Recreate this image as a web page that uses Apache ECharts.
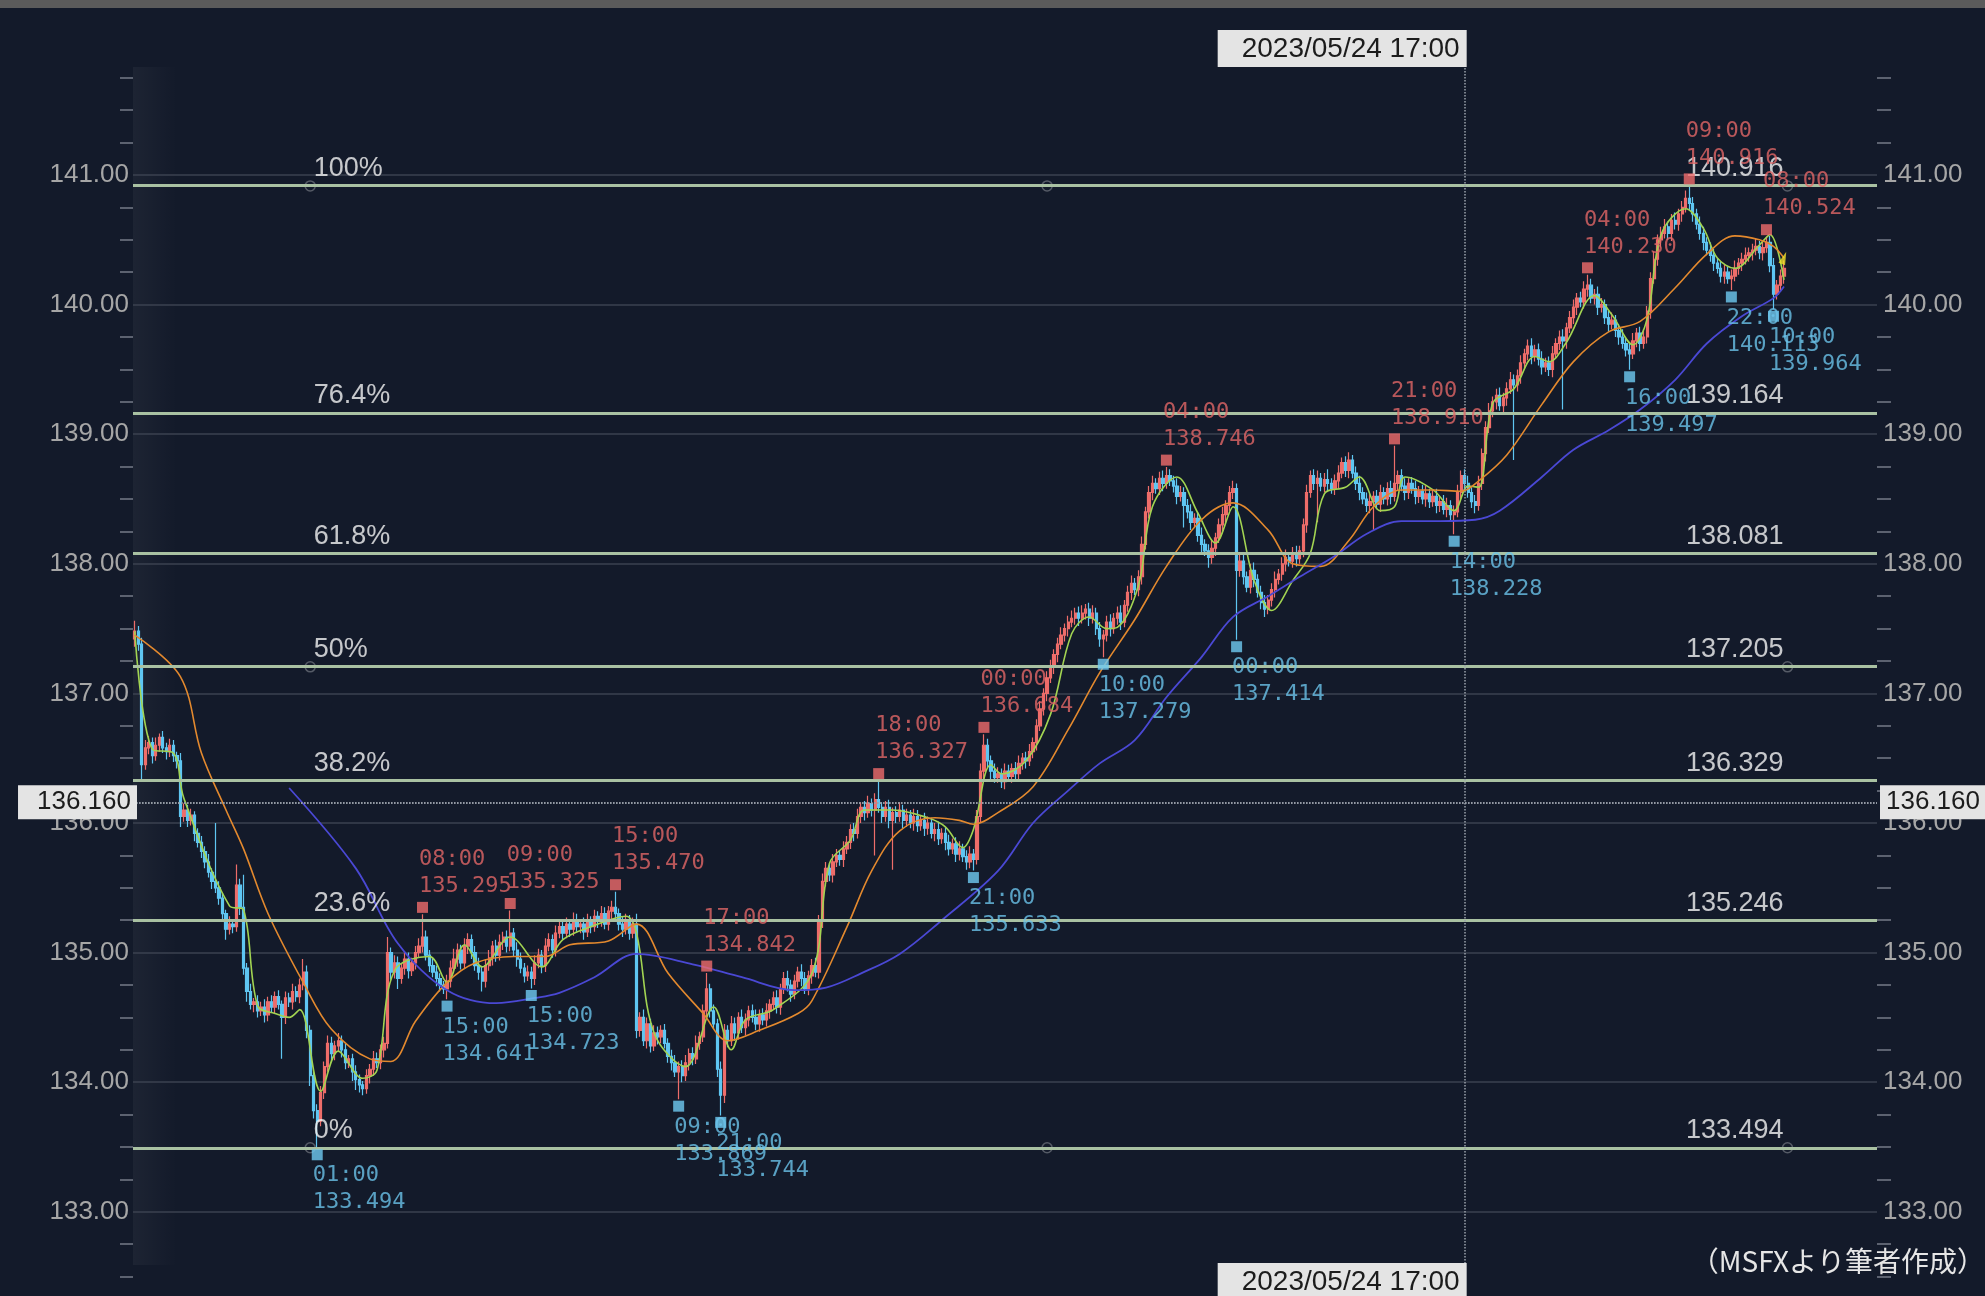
<!DOCTYPE html>
<html>
<head>
<meta charset="utf-8">
<title>USD/JPY 1時間足 フィボナッチ</title>
<script src="https://cdn.jsdelivr.net/npm/echarts@6/dist/echarts.min.js"></script>
<style>
  html, body { margin: 0; padding: 0; background: #131a2a; }
  #main { width: 1985px; height: 1296px; }
</style>
</head>
<body>
<div id="main"></div>
<script>
// hourly closes, candle 0 .. 470 (open = previous close)
const firstOpen = 137.42;
const closes = [
  137.48,137.38,136.45,136.58,136.62,136.52,136.60,136.66,136.58,136.55,
  136.60,136.52,136.48,136.05,136.10,136.02,136.06,135.92,135.85,135.78,
  135.70,135.62,135.55,135.50,135.42,135.30,135.18,135.22,135.20,135.52,
  135.35,134.88,134.70,134.60,134.62,134.55,134.58,134.52,134.62,134.58,
  134.66,134.60,134.50,134.65,134.62,134.70,134.66,134.75,134.85,134.40,
  134.05,133.78,133.70,
  133.92,134.12,134.30,134.22,134.28,134.32,134.25,134.15,134.18,134.08,
  134.02,133.98,133.95,134.05,134.10,134.18,134.15,134.25,134.30,135.00,
  134.85,134.92,134.80,134.88,134.95,134.86,134.92,135.00,135.05,135.12,
  134.98,134.90,134.85,134.80,134.75,134.72,134.78,134.88,134.95,135.02,
  134.92,135.05,135.10,135.00,134.90,134.85,134.78,134.90,134.96,135.05,
  134.98,135.08,135.12,135.05,135.15,135.02,134.95,134.88,134.82,134.85,
  134.80,134.92,134.98,134.90,135.05,135.10,135.02,135.15,135.20,
  135.15,135.22,135.18,135.25,135.20,135.22,135.16,135.24,135.20,135.28,
  135.25,135.30,135.22,135.32,135.35,135.30,135.22,135.18,135.25,135.15,
  135.22,134.40,134.50,134.32,134.45,134.28,134.38,134.35,134.40,134.30,
  134.20,134.15,134.08,134.12,134.05,134.15,134.22,134.18,134.30,134.35,
  134.55,134.72,134.55,134.45,134.10,133.90,
  134.40,134.32,134.45,134.38,134.50,134.42,134.48,134.55,134.50,134.45,
  134.52,134.48,134.55,134.60,134.65,134.58,134.72,134.80,134.75,134.68,
  134.78,134.85,134.80,134.72,134.82,134.90,134.85,135.25,135.55,135.65,
  135.60,135.70,135.75,135.72,135.80,135.85,135.95,135.92,136.05,136.12,
  136.08,136.15,136.10,136.18,136.12,
  136.05,136.12,136.02,136.08,136.05,136.10,136.02,136.06,136.00,136.05,
  135.98,136.02,135.96,136.00,135.92,135.95,135.88,135.92,135.85,135.80,
  135.84,135.76,135.80,135.74,135.70,135.76,135.72,136.05,136.40,136.60,
  136.48,136.40,136.35,
  136.38,136.32,136.40,136.36,136.42,136.38,136.46,136.50,136.48,136.55,
  136.62,136.75,136.88,137.00,137.12,137.20,137.30,137.38,137.45,137.50,
  137.55,137.58,137.62,137.58,137.62,137.65,137.58,137.62,137.50,137.42,
  137.45,137.55,137.50,137.58,137.62,137.55,137.68,137.78,137.85,137.80,
  137.90,138.15,138.40,138.55,138.62,138.58,138.66,138.62,138.68,
  138.64,138.60,138.52,138.55,138.45,138.40,138.32,138.35,138.22,138.15,
  138.10,138.05,138.12,138.20,138.30,138.38,138.45,138.55,138.58,137.95,
  138.02,137.90,137.82,137.95,137.88,137.78,137.70,137.65,137.72,137.80,
  137.88,137.92,138.00,138.05,138.02,138.08,138.04,138.10,138.30,138.55,
  138.68,138.62,138.66,138.60,138.65,138.62,138.58,138.64,138.70,138.78,
  138.72,138.80,138.70,138.62,138.55,138.50,138.45,138.48,138.52,138.46,
  138.55,138.50,138.58,138.52,138.62,
  138.68,138.60,138.55,138.62,138.58,138.52,138.56,138.50,138.54,138.48,
  138.52,138.45,138.48,138.42,138.45,138.38,138.40,138.55,138.68,138.62,
  138.55,138.48,138.45,138.62,138.85,139.05,139.18,139.25,139.30,139.22,
  139.28,139.35,139.42,139.38,139.45,139.55,139.62,139.68,139.60,139.65,
  139.58,139.52,139.55,139.50,139.62,139.70,139.75,139.72,139.82,139.90,
  139.98,140.05,140.02,140.12,140.15,
  140.05,140.08,139.98,140.00,139.90,139.85,139.88,139.80,139.75,139.70,
  139.65,139.62,139.72,139.78,139.70,139.75,139.95,140.20,140.35,140.50,
  140.55,140.60,140.55,140.65,140.62,140.70,140.75,140.82,140.78,140.70,
  140.62,140.55,140.48,140.42,140.38,140.32,140.28,140.22,140.25,140.20,
  140.22,140.28,140.32,140.35,140.38,140.40,140.42,140.45,140.40,140.44,
  140.48,140.30,140.08,140.15,140.22,140.28
];
// wicks in hundredths of a yen, above / below the body
const upWick = [
  8,4,5,6,5,4,6,3,5,4, 5,4,3,6,5,4,5,3,4,5, 4,6,3,45,5,4,3,6,4,16, 5,25,4,6,3,5,4,6,4,5, 4,5,3,5,4,6,4,5,10,5, 4,3,5,
  5,4,6,5,4,6,4,5,3,4, 5,4,3,5,4,6,5,4,5,12, 4,6,5,4,6,5,4,5,6,17.5,
  5,4,6,5,4,3,5,6,8,5, 4,6,5,4,5,6,4,5,6,4, 5,6,4,5,17.5,4,6,5,4,5, 4,6,5,4,6,5,4,6,5,
  4,5,4,6,5,4,5,6,4,5, 4,6,5,4,5,12,4,6,5,4, 5,8,4,6,5,4,6,5,4,5, 4,5,6,4,5,6,4,5,6,4, 5,12.2,4,5,4,6,
  5,4,6,5,4,6,5,4,5,6, 4,5,6,4,5,6,4,5,6,4, 5,4,6,5,4,5,6,4,6,5, 4,6,5,4,6,5,4,5,6,4, 5,6,4,5,14.7,
  4,5,6,4,5,6,4,5,4,6, 5,4,6,5,4,5,6,4,5,6, 4,5,6,4,5,6,4,5,6,8.4, 5,4,6,
  5,4,6,5,4,5,6,4,5,6, 4,5,6,4,5,6,4,5,6,4, 5,6,4,5,6,4,5,6,4,5, 4,5,6,4,5,6,4,5,6,4, 5,6,4,5,6,4,5,6,6.6,
  5,4,6,5,4,5,6,4,5,6, 4,5,6,4,5,6,4,5,6,4, 5,6,4,5,6,4,5,6,4,5, 6,4,5,6,4,5,6,4,5,6, 4,5,6,4,5,8,4,5,6,4, 5,6,4,5,6,4,5,6,4,5, 6,4,5,6,29,
  4,5,6,4,5,6,4,5,6,4, 5,6,4,5,6,4,5,6,4,5, 6,4,5,6,4,5,6,4,5,6, 4,5,6,4,5,6,4,5,6,4, 5,6,4,5,6,4,5,6,4,5, 6,4,5,6,8,
  5,4,6,5,4,5,6,4,5,6, 4,5,6,4,5,6,4,5,6,4, 5,6,4,5,6,4,5,6,9.6,5, 4,6,5,4,6,5,4,5,6,4, 5,6,4,5,6,4,5,6,4,5, 4.4,5,6,4,5,6
];
const downWick = [
  6,5,12,4,5,6,4,5,4,6, 4,5,6,8,4,5,4,6,4,5, 5,4,6,4,5,6,8,4,5,4, 6,5,8,4,6,5,4,6,5,4, 5,4,32,5,4,6,4,5,4,6, 8,6,20.6,
  4,5,4,6,5,4,6,5,4,7, 8,6,5,4,6,5,4,5,6,4, 6,5,8,4,5,6,4,5,4,5,
  4,5,4,6,5,4,7.9,5,4,6, 5,4,6,5,4,6,8,5,4,6, 5,4,6,5,4,5,6,4,5,4, 7.7,5,4,6,5,4,6,5,4,
  5,4,6,5,4,5,6,4,5,4, 6,5,4,5,6,4,5,6,4,5, 4,6,5,4,6,5,4,6,5,4, 5,6,4,21.1,5,4,6,5,4,5, 4,6,5,4,6,15.6,
  6,5,4,6,5,4,6,5,4,5, 6,4,5,6,4,5,6,4,5,6, 4,5,6,4,5,6,4,5,6,4, 5,6,4,5,6,4,5,6,4,5, 6,4,5,35,4,
  5,4,6,38,5,4,6,5,4,6, 5,4,6,5,4,6,5,4,6,5, 4,6,5,4,6,5,8.7,4,5,6, 5,6,4,
  4,5,6,4,5,6,4,5,6,4, 5,6,4,5,6,4,5,6,4,5, 6,4,5,6,4,5,6,4,5,6, 14.1,5,6,4,5,6,4,5,6,4, 5,6,4,5,6,4,5,6,4,
  4,5,6,4,17,5,6,4,5,6, 4,8,5,6,4,5,6,4,5,53.6, 5,6,4,5,6,4,5,6,4,5, 6,4,5,6,4,5,6,4,5,6, 4,5,30,4,5,6,4,5,6,4, 5,6,4,5,6,4,5,6,22,4, 6,4,5,6,4,
  5,4,6,5,4,6,5,4,6,5, 4,6,5,4,6,5,15.2,4,5,6, 4,5,6,4,5,6,4,5,6,4, 5,6,4,58,5,6,4,5,6,4, 5,6,4,5,6,4,5,53,6,4, 5,6,4,5,6,
  4,5,6,4,5,6,4,5,6,4, 5,12.3,4,5,6,4,5,6,4,5, 6,4,5,6,4,5,6,4,5,6, 4,5,6,4,5,6,4,5,6,4, 8.7,4,5,6,4,5,6,4,5,6, 4,5,11.6,4,5,6
];
const totalSlots = 497; // 471 candles + empty room on the right

// moving averages: [candle index, price]
const maShort = [[0,137.48],[5,136.57],[11,136.54],[14,136.19],[27,135.36],[31,135.33],[35,134.59],[40,134.53],[44,134.50],[47,134.56],[53,133.93],[58,134.24],[65,134.03],[69,134.09],[74,134.86],[84,134.97],[89,134.77],[94,135.06],[99,134.89],[107,135.12],[116,134.89],[122,135.10],[130,135.20],[140,135.28],[143,135.15],[148,134.38],[157,134.12],[165,134.58],[170,134.25],[174,134.48],[182,134.56],[193,134.84],[198,135.69],[204,135.87],[208,136.10],[216,136.10],[226,136.04],[231,135.97],[236,135.81],[239,135.95],[244,136.45],[247,136.38],[254,136.48],[261,136.84],[267,137.46],[272,137.59],[277,137.50],[280,137.51],[286,137.83],[290,138.44],[297,138.67],[303,138.39],[308,138.16],[313,138.44],[319,137.87],[324,137.64],[330,137.87],[335,138.08],[339,138.54],[345,138.59],[349,138.67],[355,138.41],[359,138.44],[362,138.67],[370,138.57],[376,138.41],[380,138.60],[383,138.59],[387,139.24],[393,139.35],[399,139.60],[403,139.56],[408,139.71],[416,140.07],[421,139.92],[427,139.69],[431,139.89],[435,140.54],[442,140.74],[447,140.59],[451,140.36],[456,140.28],[463,140.46],[466,140.54],[470,140.19]];
const maMid = [[0,137.45],[13,137.13],[19,136.54],[26,136.10],[31,135.80],[38,135.30],[48,134.77],[56,134.41],[67,134.18],[73,134.16],[80,134.47],[89,134.77],[97,134.92],[108,134.97],[117,134.97],[124,135.06],[135,135.09],[143,135.22],[152,134.84],[162,134.53],[169,134.32],[178,134.40],[189,134.53],[193,134.63],[203,135.20],[210,135.63],[218,135.94],[228,136.04],[235,136.02],[239,135.99],[246,136.08],[256,136.28],[266,136.72],[275,137.16],[285,137.57],[294,137.98],[304,138.34],[313,138.47],[323,138.26],[330,138.00],[338,137.98],[346,138.18],[353,138.44],[361,138.57],[370,138.57],[378,138.56],[383,138.64],[391,138.84],[401,139.23],[410,139.56],[420,139.79],[429,139.87],[439,140.13],[448,140.39],[456,140.53],[463,140.50],[467,140.45],[470,140.36]];
const maLong = [[44,136.27],[63,135.65],[75,135.07],[89,134.71],[103,134.61],[114,134.65],[121,134.69],[131,134.81],[143,134.99],[159,134.91],[173,134.81],[188,134.71],[197,134.73],[207,134.84],[218,134.99],[230,135.25],[246,135.63],[256,136.00],[266,136.25],[275,136.46],[285,136.64],[294,136.97],[304,137.28],[313,137.59],[323,137.75],[332,137.90],[342,138.06],[351,138.23],[361,138.33],[372,138.33],[382,138.34],[389,138.41],[401,138.67],[410,138.88],[420,139.03],[429,139.19],[439,139.42],[448,139.70],[458,139.91],[467,140.05],[470,140.14]];

// swing highs / lows: [candle index, price, hour]
const swingHighs = [[82,135.295,'08:00'],[107,135.325,'09:00'],[137,135.470,'15:00'],[163,134.842,'17:00'],[212,136.327,'18:00'],[242,136.684,'00:00'],[294,138.746,'04:00'],[359,138.910,'21:00'],[414,140.230,'04:00'],[443,140.916,'09:00'],[465,140.524,'08:00']];
const swingLows = [[52,133.494,'01:00'],[89,134.641,'15:00'],[113,134.723,'15:00'],[155,133.869,'09:00'],[167,133.744,'21:00'],[239,135.633,'21:00'],[276,137.279,'10:00'],[314,137.414,'00:00'],[376,138.228,'14:00'],[426,139.497,'16:00'],[455,140.113,'22:00'],[467,139.964,'10:00']];

// fibonacci retracement
const fibPct = ['100%','76.4%','61.8%','50%','38.2%','23.6%','0%'];
const fibPrice = [140.916,139.164,138.081,137.205,136.329,135.246,133.494];
const fibHandles = [[50,140.916],[50,137.205],[50,133.494],[260,140.916],[260,133.494],[471,140.916],[471,137.205],[471,133.494]];
const fibLeftAt = 50, fibRightAt = 470;

// crosshair
const crossIndex = 379, crossPrice = 136.160, crossTime = '2023/05/24 17:00';
const lastMark = [[470, 140.36]];

// y axis
const yMin = 132, yMax = 142, yStep = 1;

const upColor = '#ee6d6a', downColor = '#5fc6f2';
const sans = '"Liberation Sans", Arial, sans-serif';
const mono = '"DejaVu Sans Mono", "Liberation Mono", monospace';

const candles = closes.map((c, i) => {
  const o = i ? closes[i - 1] : firstOpen;
  return [o, c, Math.min(o, c) - downWick[i] / 100, Math.max(o, c) + upWick[i] / 100];
});
const categories = Array.from({ length: totalSlots }, (_, i) => i);

function yAxisCfg(pos) {
  return {
    type: 'value', position: pos, min: yMin, max: yMax, interval: yStep,
    axisLine: { show: false },
    axisTick: { show: false },
    minorTick: { show: true, splitNumber: 4, length: pos === 'left' ? 13 : 14,
      lineStyle: { color: '#5c6270', width: 2 } },
    minorSplitLine: { show: false },
    axisLabel: {
      margin: pos === 'left' ? 4 : 6, color: '#a6a6a6', fontFamily: sans, fontSize: 26,
      formatter: v => (v >= yMax || v <= yMin) ? '' : v.toFixed(2)
    },
    splitLine: pos === 'left'
      ? { show: true, showMaxLine: false, showMinLine: false, lineStyle: { color: '#3b4250', width: 1.5 } }
      : { show: false }
  };
}

const chart = echarts.init(document.getElementById('main'));
const option = {
  animation: false,
  backgroundColor: '#131a2a',
  grid: { left: 133, right: 108, top: 45.4, height: 1296, containLabel: false, outerBoundsMode: 'none' },
  xAxis: {
    type: 'category', data: categories, boundaryGap: true,
    axisLine: { show: false }, axisTick: { show: false }, axisLabel: { show: false }, splitLine: { show: false }
  },
  yAxis: [yAxisCfg('left'), yAxisCfg('right')],
  graphic: [
    { id: 'topBar', type: 'rect', shape: { x: 0, y: 0, width: 1985, height: 8 }, style: { fill: '#5b5b5b' } },
    { id: 'stripe', type: 'rect', z: -1, shape: { x: 133, y: 67, width: 44, height: 1198 },
      style: { fill: new echarts.graphic.LinearGradient(0, 0, 1, 0, [
        { offset: 0, color: 'rgba(255,255,255,0.045)' }, { offset: 1, color: 'rgba(255,255,255,0)' }]) } },
    { id: 'credit', type: 'text', z: 100,
      style: { text: '（MSFXより筆者作成）', x: 1985, y: 1261, align: 'right', verticalAlign: 'middle',
        font: '28px "Noto Sans CJK JP", sans-serif', fill: '#e6e6e6' } }
  ],
  series: [
    {
      name: 'USDJPY', type: 'candlestick', data: candles, barWidth: 2.8,
      itemStyle: { color: upColor, color0: downColor, borderColor: upColor, borderColor0: downColor, borderWidth: 1.2 }
    },
    { name: 'MA short', type: 'line', data: maShort, smooth: 0.35, symbol: 'none',
      lineStyle: { color: '#a2d452', width: 1.6 } },
    { name: 'MA mid', type: 'line', data: maMid, smooth: 0.35, symbol: 'none',
      lineStyle: { color: '#e3892e', width: 1.6 } },
    { name: 'MA long', type: 'line', data: maLong, smooth: 0.35, symbol: 'none',
      lineStyle: { color: '#4a48d4', width: 1.8 } },
    {
      name: 'fib', type: 'line', data: [], clip: false,
      markLine: {
        silent: true, symbol: ['none', 'none'], animation: false,
        label: { show: false },
        lineStyle: { color: '#a9c1a2', type: 'solid', width: 3 },
        data: fibPrice.map(p => ({ yAxis: p }))
      }
    },
    {
      name: 'fibHandles', type: 'scatter', data: fibHandles, symbol: 'circle', symbolSize: 10,
      itemStyle: { color: 'rgba(0,0,0,0)', borderColor: '#666c76', borderWidth: 1.5 }, z: 4
    },
    {
      name: 'fibLeft', type: 'scatter', symbolSize: 1, itemStyle: { color: 'rgba(0,0,0,0)' }, z: 5,
      data: fibPrice.map((p, k) => [fibLeftAt, p, fibPct[k]]),
      label: { show: true, formatter: d => d.data[2], position: [4, -1.5], align: 'left', verticalAlign: 'bottom',
        color: '#f4f4f4', fontFamily: sans, fontSize: 27, lineHeight: 30 }
    },
    {
      name: 'fibRight', type: 'scatter', symbolSize: 1, itemStyle: { color: 'rgba(0,0,0,0)' }, z: 5,
      data: fibPrice.map(p => [fibRightAt, p]),
      label: { show: true, formatter: d => d.data[1].toFixed(3), position: [0, -1.5], align: 'right', verticalAlign: 'bottom',
        color: '#f4f4f4', fontFamily: sans, fontSize: 27, lineHeight: 30 }
    },
    {
      name: 'highs', type: 'scatter', data: swingHighs, symbol: 'rect', symbolSize: 11, symbolOffset: [0, -7],
      itemStyle: { color: '#f06c6c' }, z: 6,
      label: { show: true, formatter: d => d.data[2] + '\n' + d.data[1].toFixed(3),
        position: [2, -2], align: 'left', verticalAlign: 'bottom',
        color: '#e26666', fontFamily: mono, fontSize: 22, lineHeight: 27 }
    },
    {
      name: 'lows', type: 'scatter', data: swingLows, symbol: 'rect', symbolSize: 11, symbolOffset: [0, 7],
      itemStyle: { color: '#6fcaf2' }, z: 6,
      label: { show: true, formatter: d => d.data[2] + '\n' + d.data[1].toFixed(3),
        position: [1, 13], align: 'left', verticalAlign: 'top',
        color: '#6cc3ea', fontFamily: mono, fontSize: 22, lineHeight: 27 }
    },
    {
      name: 'last', type: 'scatter', data: lastMark, symbol: 'triangle', symbolSize: [7, 13], symbolRotate: -20,
      itemStyle: { color: '#f2e22a' }, z: 6
    },
    {
      name: 'cross', type: 'line', data: [], clip: false, z: 8,
      markLine: {
        silent: true, symbol: ['none', 'none'], animation: false,
        lineStyle: { color: '#9ba1ab', type: 'dotted', width: 1.5 },
        label: { show: false },
        data: [
          { xAxis: crossIndex },
          { yAxis: crossPrice, label: { show: true, position: 'start', distance: -4, formatter: crossPrice.toFixed(3),
              color: '#1c1c1c', fontFamily: sans, fontSize: 26, lineHeight: 28,
              backgroundColor: '#e4e4e4', padding: [4, 6, 2, 19] } },
          { yAxis: crossPrice, label: { show: true, position: 'end', distance: 3, formatter: crossPrice.toFixed(3),
              color: '#1c1c1c', fontFamily: sans, fontSize: 26, lineHeight: 28,
              backgroundColor: '#e4e4e4', padding: [4, 30, 2, 6] } }
        ]
      }
    }
  ]
};
chart.setOption(option);

// date boxes on the vertical crosshair, placed through the x scale
const cx = chart.convertToPixel({ xAxisIndex: 0 }, crossIndex);
chart.setOption({
  graphic: [
    { id: 'dateTopBox', type: 'rect', z: 50, shape: { x: cx - 247, y: 30, width: 249, height: 37 }, style: { fill: '#e4e4e4' } },
    { id: 'dateTopText', type: 'text', z: 51,
      style: { text: crossTime, x: cx - 5, y: 49, align: 'right', verticalAlign: 'middle', font: '28px ' + sans, fill: '#1c1c1c' } },
    { id: 'dateBotBox', type: 'rect', z: 50, shape: { x: cx - 247, y: 1263, width: 249, height: 40 }, style: { fill: '#e4e4e4' } },
    { id: 'dateBotText', type: 'text', z: 51,
      style: { text: crossTime, x: cx - 5, y: 1282, align: 'right', verticalAlign: 'middle', font: '28px ' + sans, fill: '#1c1c1c' } }
  ]
});
</script>
</body>
</html>
